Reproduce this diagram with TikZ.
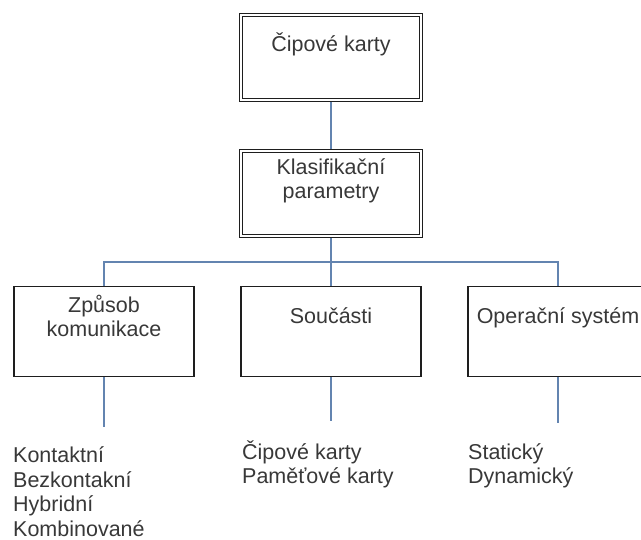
\documentclass[tikz,border=0pt]{standalone}
\usepackage{fontspec}
\setmainfont{Liberation Sans}
\usepackage{tikz}
\usetikzlibrary{positioning}
\definecolor{ccLine}{HTML}{1E1E1E}
\definecolor{ccText}{HTML}{383838}
\definecolor{ccLink}{HTML}{6384B0}
\newcommand{\ccfont}{\fontsize{21.5pt}{24pt}\selectfont}
\newcommand{\cclistfont}{\fontsize{21.5pt}{24.5pt}\selectfont}
\tikzset{
  ccnode/.style={
    draw=ccLine, minimum width=180pt, font=\ccfont, text=ccText,
    align=center, inner ysep=0pt
  },
  ccroot/.style={ccnode, double=white, line width=1.3pt, double distance=1.4pt,
    outer sep=2pt, minimum height=85pt},
  ccbox/.style={ccnode, line width=1.5pt, minimum height=90pt},
  cclist/.style={font=\cclistfont, text=ccText, align=left, inner sep=0pt,
    anchor=base west},
  cclink/.style={draw=ccLink, line width=1.5pt}
}
\begin{document}
\begin{tikzpicture}[x=1pt, y=1pt]
  \useasboundingbox (0,0) rectangle (641,540);
  \clip (0,0) rectangle (641,540);
  % boxes
  \node[ccroot, text height=37pt, text depth=48pt] (cards) at (331,482.5) {Čipové karty};
  \node[ccroot, text height=47.5pt, text depth=37.5pt] (params) at (331,346.5) {Klasifikační\\parametry};
  \node[ccbox, text height=37.5pt, text depth=52.5pt] (parts) at (331,208.5) {Součásti};
  \node[ccbox, text height=50.5pt, text depth=39.5pt, left=45.5pt of parts] (comm) {Způsob\\komunikace};
  \node[ccbox, text height=37.5pt, text depth=52.5pt, right=45.5pt of parts] (os) {Operační systém};
  % lists under the boxes
  \node[cclist] (commlist) at (13,3.5) {Kontaktní\\Bezkontakní\\Hybridní\\Kombinované};
  \node[cclist] (partslist) at (242,56) {Čipové karty\\Paměťové karty};
  \node[cclist] (oslist) at (468,56) {Statický\\Dynamický};
  % connectors
  \coordinate (bus) at (331,278);
  \draw[cclink] (cards) -- (params);
  \draw[cclink] (params) -- (parts);
  \draw[cclink] (comm.north) |- (bus) -| (os.north);
  \foreach \b/\l in {comm/commlist, parts/partslist, os/oslist}
    \draw[cclink, shorten >=20pt] (\b.south) -- (\l.north -| \b.south);
\end{tikzpicture}
\end{document}
